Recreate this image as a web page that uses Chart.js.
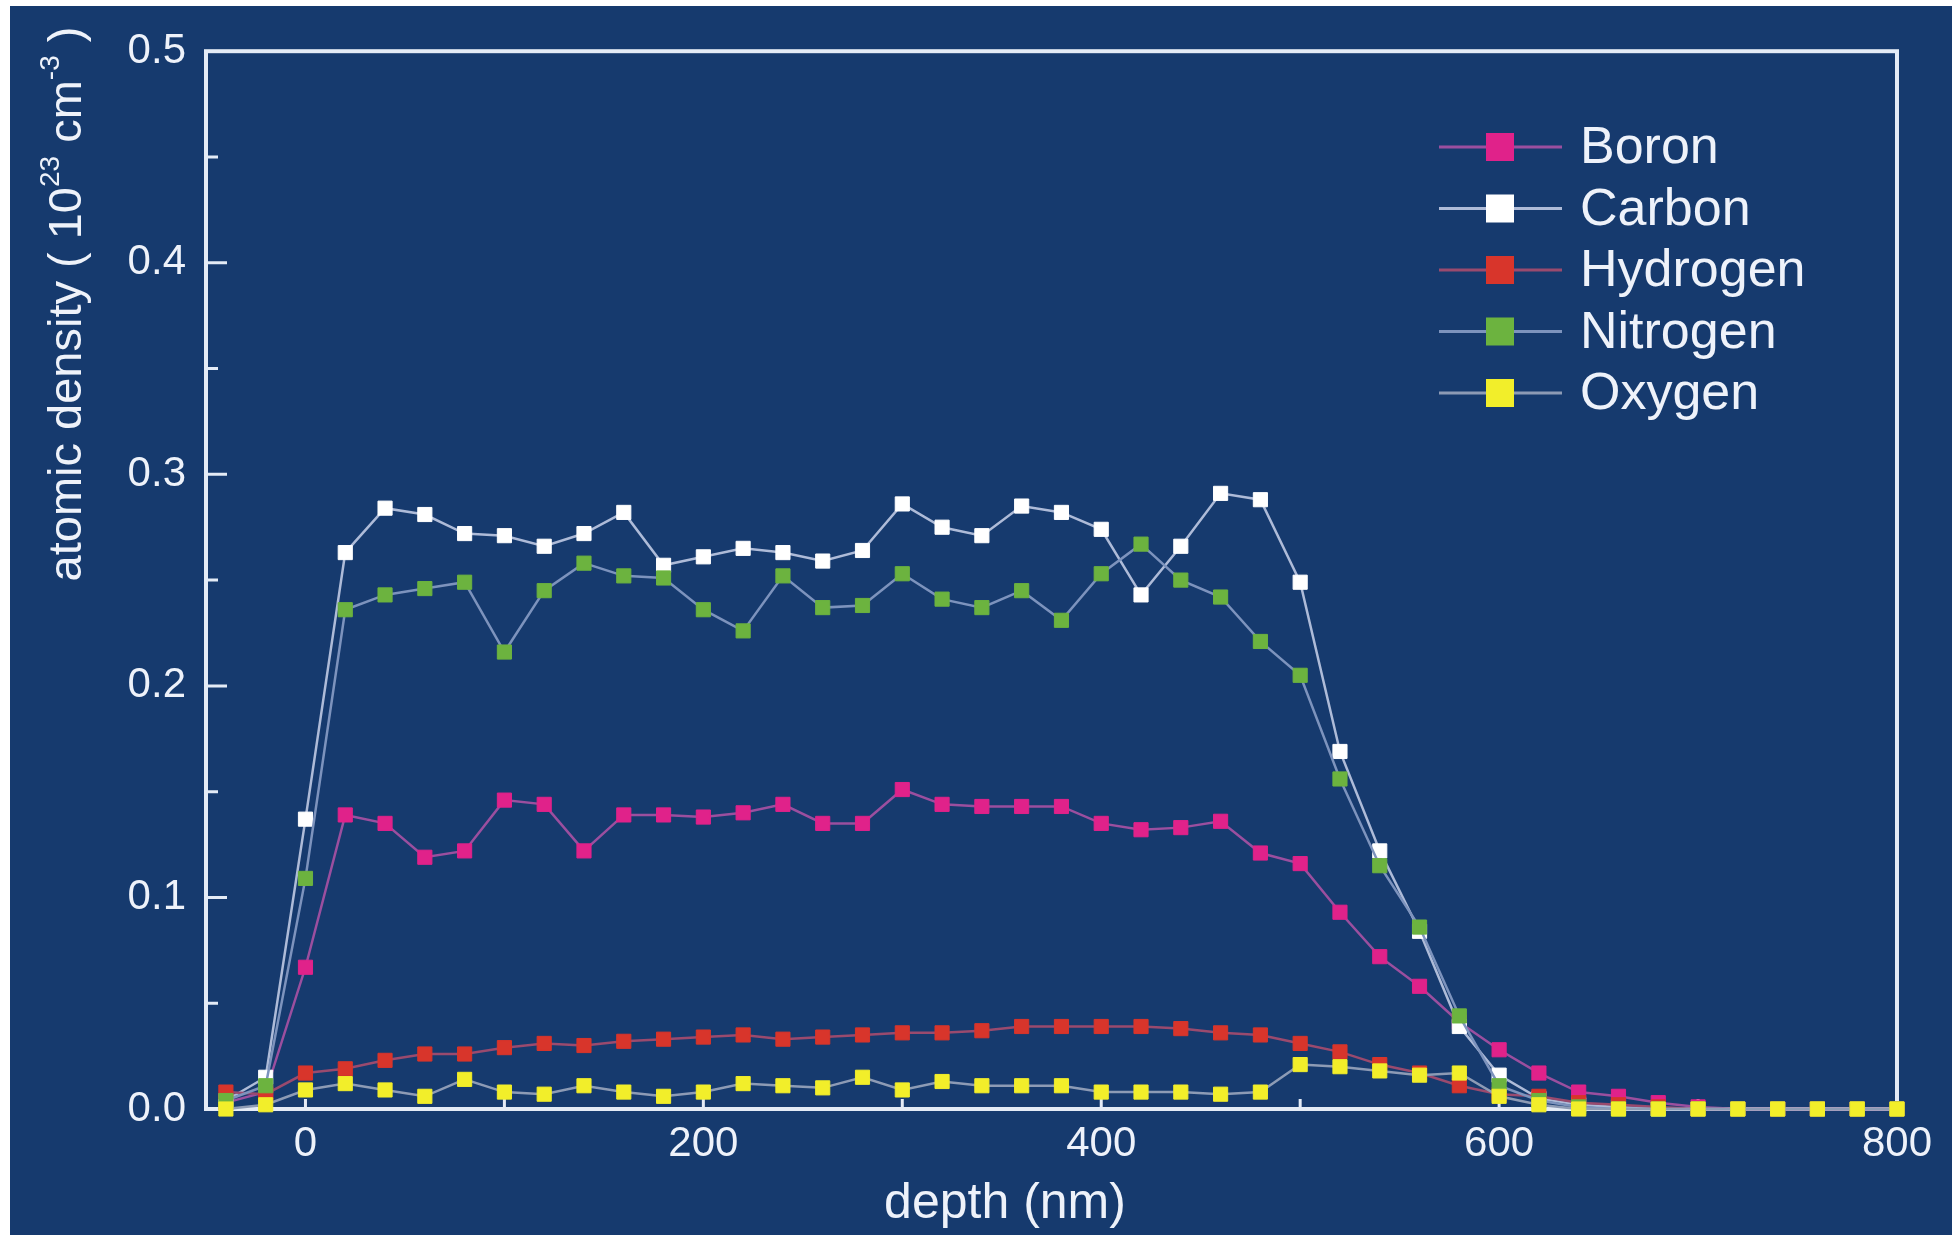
<!DOCTYPE html>
<html>
<head>
<meta charset="utf-8">
<script src="https://cdn.jsdelivr.net/npm/chart.js@4.4.1/dist/chart.umd.min.js"></script>
<style>
  html, body { margin: 0; padding: 0; background: #ffffff; }
  #wrap { position: absolute; left: 10px; top: 6px; width: 1942px; height: 1229px; background: #163a6e; }
</style>
</head>
<body>
<div id="wrap"><canvas id="myChart"></canvas></div>
<script>
// depth (nm) of every measured point
const depth = [-40, -20, 0, 20, 40, 60, 80, 100, 120, 140, 160, 180, 200, 220, 240, 260, 280, 300, 320, 340,
  360, 380, 400, 420, 440, 460, 480, 500, 520, 540, 560, 580, 600, 620, 640, 660, 680, 700, 720, 740, 760, 780, 800];

// atomic density (10^23 cm^-3)
const boron = [0.003, 0.008, 0.067, 0.139, 0.135, 0.119, 0.122, 0.146, 0.144, 0.122, 0.139, 0.139, 0.138, 0.140,
  0.144, 0.135, 0.135, 0.151, 0.144, 0.143, 0.143, 0.143, 0.135, 0.132, 0.133, 0.136, 0.121, 0.116, 0.093, 0.072,
  0.058, 0.041, 0.028, 0.017, 0.008, 0.006, 0.003, 0.001, 0, 0, 0, 0, 0];
const carbon = [0.004, 0.015, 0.137, 0.263, 0.284, 0.281, 0.272, 0.271, 0.266, 0.272, 0.282, 0.257, 0.261, 0.265,
  0.263, 0.259, 0.264, 0.286, 0.275, 0.271, 0.285, 0.282, 0.274, 0.243, 0.266, 0.291, 0.288, 0.249, 0.169, 0.122,
  0.084, 0.039, 0.016, 0.005, 0.002, 0.001, 0, 0, 0, 0, 0, 0, 0];
const hydrogen = [0.008, 0.007, 0.017, 0.019, 0.023, 0.026, 0.026, 0.029, 0.031, 0.030, 0.032, 0.033, 0.034, 0.035,
  0.033, 0.034, 0.035, 0.036, 0.036, 0.037, 0.039, 0.039, 0.039, 0.039, 0.038, 0.036, 0.035, 0.031, 0.027, 0.021,
  0.017, 0.011, 0.007, 0.006, 0.003, 0.002, 0.001, 0, 0, 0, 0, 0, 0];
const nitrogen = [0.004, 0.011, 0.109, 0.236, 0.243, 0.246, 0.249, 0.216, 0.245, 0.258, 0.252, 0.251, 0.236, 0.226,
  0.252, 0.237, 0.238, 0.253, 0.241, 0.237, 0.245, 0.231, 0.253, 0.267, 0.250, 0.242, 0.221, 0.205, 0.156, 0.115,
  0.086, 0.044, 0.011, 0.004, 0.001, 0, 0, 0, 0, 0, 0, 0, 0];
const oxygen = [0.0, 0.002, 0.009, 0.012, 0.009, 0.006, 0.014, 0.008, 0.007, 0.011, 0.008, 0.006, 0.008, 0.012,
  0.011, 0.010, 0.015, 0.009, 0.013, 0.011, 0.011, 0.011, 0.008, 0.008, 0.008, 0.007, 0.008, 0.021, 0.020, 0.018,
  0.016, 0.017, 0.006, 0.002, 0, 0, 0, 0, 0, 0, 0, 0, 0];

const names = ['Boron', 'Carbon', 'Hydrogen', 'Nitrogen', 'Oxygen'];
const series = [boron, carbon, hydrogen, nitrogen, oxygen];

const xTickValues = [0, 200, 400, 600, 800];
const yTickValues = [0, 0.1, 0.2, 0.3, 0.4, 0.5];
const xMarks = [0, 100, 200, 300, 400, 500, 600, 700];
const yMajorMarks = [0.1, 0.2, 0.3, 0.4];
const yMinorMarks = [0.05, 0.15, 0.25, 0.35, 0.45];

const markerColors = ['#e0228a', '#ffffff', '#d8352b', '#6cb33f', '#f2ee2a'];
const lineColors = ['#9b4f9f', '#aebbd8', '#9a4a6e', '#7d93bd', '#8d9bb5'];
const drawOrder = [4, 3, 2, 1, 0];

const FONT = '"Liberation Sans", Arial, Helvetica, sans-serif';
const TEXT = '#eef2fa';
const FRAME = '#e4ebf6';

// box round the plot + ticks pointing inward
const frame = {
  id: 'frame',
  beforeDatasetsDraw(chart) {
    const { ctx, chartArea: a, scales: { x, y } } = chart;
    ctx.save();
    ctx.strokeStyle = FRAME;
    ctx.lineWidth = 4;
    ctx.strokeRect(a.left, a.top, a.right - a.left, a.bottom - a.top);
    ctx.lineWidth = 3;
    ctx.beginPath();
    yMajorMarks.forEach(v => { const py = y.getPixelForValue(v); ctx.moveTo(a.left, py); ctx.lineTo(a.left + 21, py); });
    yMinorMarks.forEach(v => { const py = y.getPixelForValue(v); ctx.moveTo(a.left, py); ctx.lineTo(a.left + 12, py); });
    xMarks.forEach(v => { const px = x.getPixelForValue(v); ctx.moveTo(px, a.bottom); ctx.lineTo(px, a.bottom - 10); });
    ctx.stroke();
    ctx.restore();
  }
};

// axis titles (y one with superscripts)
const axisTitles = {
  id: 'axisTitles',
  afterDraw(chart) {
    const ctx = chart.ctx;
    ctx.save();
    ctx.fillStyle = TEXT;
    ctx.textBaseline = 'middle';

    ctx.font = '50px ' + FONT;
    ctx.textAlign = 'center';
    ctx.fillText('depth (nm)', 995, 1198);

    ctx.textAlign = 'left';
    const parts = [['atomic density ( 10', false], ['23', true], [' cm', false], ['-3', true], [' )', false]];
    const big = '47px ' + FONT, small = '28px ' + FONT;
    let total = 0;
    parts.forEach(p => { ctx.font = p[1] ? small : big; total += ctx.measureText(p[0]).width; });
    ctx.translate(58, 298);
    ctx.rotate(-Math.PI / 2);
    let xx = -total / 2;
    parts.forEach(p => {
      ctx.font = p[1] ? small : big;
      ctx.fillText(p[0], xx, p[1] ? -17 : 0);
      xx += ctx.measureText(p[0]).width;
    });
    ctx.restore();
  }
};

// legend: line with a square in the middle
const legendBox = {
  id: 'legendBox',
  afterDraw(chart) {
    const ctx = chart.ctx;
    ctx.save();
    ctx.font = '52px ' + FONT;
    ctx.textBaseline = 'middle';
    names.forEach((n, i) => {
      const yy = 141 + i * 61.5;
      ctx.strokeStyle = lineColors[i];
      ctx.lineWidth = 3;
      ctx.beginPath();
      ctx.moveTo(1429, yy);
      ctx.lineTo(1552, yy);
      ctx.stroke();
      ctx.fillStyle = markerColors[i];
      ctx.fillRect(1490 - 14, yy - 14, 28, 28);
      ctx.fillStyle = TEXT;
      ctx.fillText(n, 1570, yy + 2);
    });
    ctx.restore();
  }
};

const ctx = document.getElementById('myChart');

new Chart(ctx, {
  type: 'line',
  data: {
    datasets: names.map((n, i) => ({
      label: n,
      data: depth.map((d, k) => ({ x: d, y: series[i][k] })),
      borderColor: lineColors[i],
      backgroundColor: markerColors[i],
      pointBackgroundColor: markerColors[i],
      pointBorderColor: markerColors[i],
      pointStyle: 'rect',
      pointRadius: 10,
      pointBorderWidth: 1,
      borderWidth: 2.5,
      clip: false,
      order: drawOrder[i]
    }))
  },
  options: {
    responsive: true,
    maintainAspectRatio: false,
    animation: false,
    layout: { padding: { top: 45, right: 55, left: 0, bottom: 0 } },
    plugins: {
      legend: { display: false },
      tooltip: { enabled: false }
    },
    scales: {
      x: {
        type: 'linear',
        min: -50,
        max: 800,
        afterBuildTicks: s => { s.ticks = xTickValues.map(v => ({ value: v })); },
        afterFit: s => { s.height = 126; },
        grid: { display: false, drawTicks: false },
        border: { display: false },
        ticks: { color: TEXT, font: { family: FONT, size: 42 }, padding: 10, maxRotation: 0, autoSkip: false }
      },
      y: {
        min: 0,
        max: 0.5,
        afterBuildTicks: s => { s.ticks = yTickValues.map(v => ({ value: v })); },
        afterFit: s => { s.width = 196; },
        grid: { display: false, drawTicks: false },
        border: { display: false },
        ticks: { color: TEXT, font: { family: FONT, size: 42 }, padding: 20, callback: v => v.toFixed(1) }
      }
    }
  },
  plugins: [frame, axisTitles, legendBox]
});
</script>
</body>
</html>
